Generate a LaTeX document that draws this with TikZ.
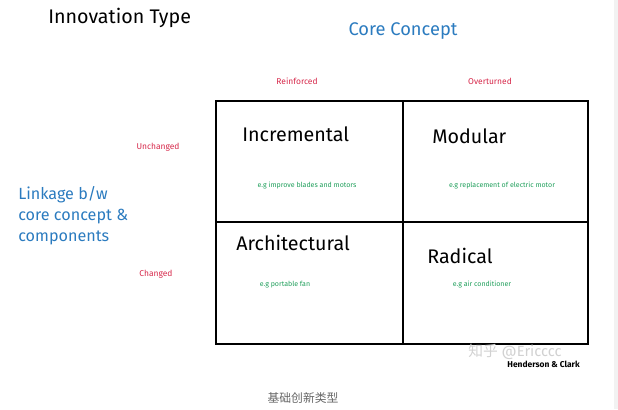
\documentclass[tikz,border=0pt]{standalone}
\usepackage{fontspec}
\setmainfont{Fira Sans}
\newfontfamily\cjk{Noto Sans CJK SC}
\usepackage{tikz}
\usetikzlibrary{positioning}

\definecolor{conceptblue}{HTML}{2B7BBF}
\definecolor{axisred}{HTML}{D6284A}
\definecolor{examplegreen}{HTML}{1E9E5A}

\tikzset{
    title/.style={font=\fontsize{14}{16}\selectfont, inner sep=0pt},
    axis/.style={font=\fontsize{13}{15}\selectfont, text=conceptblue, inner sep=0pt},
    level/.style={font=\fontsize{6}{7}\selectfont, text=axisred, inner sep=0pt},
    quadrant/.style={font=\fontsize{14}{16}\selectfont, anchor=west, inner sep=0pt},
    example/.style={font=\fontsize{5}{6}\selectfont, text=examplegreen, inner sep=0pt},
    gridline/.style={line width=1.4pt, line cap=round}
}

\begin{document}
\begin{tikzpicture}[x=0.025cm, y=-0.025cm]

    \useasboundingbox (0,0) rectangle (618,409);
    \fill[black!5] (614,0) rectangle (618,409);

    % Headings
    \node[title, anchor=west] (type) at (48,18) {Innovation Type};
    \node[axis] (core) at (403,31) {Core Concept};
    \node[axis, anchor=north west, align=left, font=\fontsize{11.5}{15}\selectfont] (link) at (18,186)
        {Linkage b/w\\core concept \&\\components};

    % Column and row levels
    \node[level] (reinf) at (297,81) {Reinforced};
    \node[level] (overt) at (490,81) {Overturned};
    \node[level] (unch) at (158,147) {Unchanged};
    \node[level] (chan) at (156,274) {Changed};

    % The 2x2 grid
    \coordinate (nw) at (216,101);
    \coordinate (se) at (588,344);
    \coordinate (mid) at (403,222);
    \draw[gridline] (nw) rectangle (se);
    \draw[gridline, line width=1.1pt] (nw -| mid) -- (se -| mid);
    \draw[gridline, line width=1.1pt] (nw |- mid) -- (se |- mid);

    % Quadrants
    \node[quadrant] (incr) at (242,134) {Incremental};
    \node[quadrant] (modu) at (432,136) {Modular};
    \node[quadrant] (arch) at (236,243) {Architectural};
    \node[quadrant] (radi) at (427,256) {Radical};

    \node[example] (ex1) at (307,186) {e.g improve blades and motors};
    \node[example] (ex2) at (502,186) {e.g replacement of electric motor};
    \node[example] (ex3) at (285,285) {e.g portable fan};
    \node[example] (ex4) at (482,285) {e.g air conditioner};

    % Source, watermark and caption
    \node[inner sep=0pt, text=black!18, anchor=west, font=\fontsize{10.5}{12}\selectfont] (mark) at (468,352)
        {{\cjk 知乎} @Ericccc};
    \node[inner sep=0pt, anchor=east, font=\bfseries\fontsize{6}{7}\selectfont] (src) at (580,364) {Henderson \& Clark};
    \node[inner sep=0pt, text=black!60, font=\cjk\fontsize{8.4}{10}\selectfont] (cap) at (303,398) {基础创新类型};

\end{tikzpicture}
\end{document}
